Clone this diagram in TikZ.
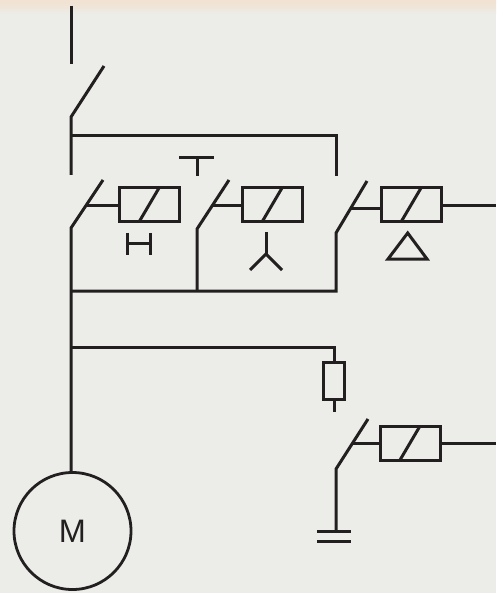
\documentclass[tikz,border=0pt]{standalone}
\usepackage{fontspec}
\newfontfamily\diagsans{Liberation Sans}
\definecolor{bgc}{RGB}{236,237,233}
\definecolor{peach}{RGB}{241,226,210}
\definecolor{ink}{RGB}{35,31,32}
\tikzset{
  wire/.style={draw=ink,line width=3pt,line cap=butt,line join=miter},
  coil/.style={draw=ink,line width=3pt,minimum width=60pt,minimum height=34pt,inner sep=0pt,outer sep=0pt},
  fuse/.style={draw=ink,line width=3pt,minimum width=21pt,minimum height=37pt,inner sep=0pt,outer sep=0pt},
  motor/.style={circle,draw=ink,line width=2.8pt,minimum size=117pt,inner sep=0pt,outer sep=0pt,text=ink,font=\diagsans\fontsize{32.5}{32.5}\selectfont},
}
\begin{document}
\begin{tikzpicture}[x=1pt,y=-1pt]
\useasboundingbox (0,0) rectangle (496,593);
\fill[bgc] (0,0) rectangle (496,593);
\shade[top color=peach,bottom color=bgc,middle color=peach!70!bgc] (0,0) rectangle (496,14);

% nodes
\node[coil] (c1) at (149,205) {};
\node[coil] (c2) at (272,205) {};
\node[coil] (c3) at (411,205) {};
\node[coil] (c4) at (410,443) {};
\node[fuse] (f1) at (334,380.5) {};
\node[motor] (m) at (72.5,531) {M};

% named points
\coordinate (t0) at (71,6);
\coordinate (t1) at (71,64);
\coordinate (s0a) at (71,117);
\coordinate (s0b) at (104,66);
\coordinate (s0c) at (71,175);
\coordinate (j0) at (71,136);
\coordinate (j0r) at (336,136);
\coordinate (j0d) at (336,176);

\coordinate (s1a) at (71,228);
\coordinate (s1b) at (103,180);
\coordinate (s1m) at (86,206);
\coordinate (s2a) at (197,229);
\coordinate (s2b) at (229,180);
\coordinate (s2m) at (212,206);
\coordinate (s3a) at (336,233);
\coordinate (s3b) at (367,181);
\coordinate (s3m) at (351,209);
\coordinate (s4a) at (336,469);
\coordinate (s4b) at (368,419);
\coordinate (s4m) at (353,443);

\coordinate (bl) at (71,291);
\coordinate (bm) at (197,291);
\coordinate (br) at (336,291);
\coordinate (j1) at (71,347);
\coordinate (j1r) at (334,347);
\coordinate (f1e) at (334,412);
\coordinate (o3) at (496,206);
\coordinate (o4a) at (442,443);
\coordinate (o4) at (496,443);
\coordinate (g0) at (336,531);

% supply and switches
\draw[wire] (t0) -- (t1);
\draw[wire] (s0b) -- (s0a) -- (s0c);
\draw[wire] (j0) -- (j0r) -- (j0d);
\draw[wire] (s1b) -- (s1a) -- (m.north -| s1a);
\draw[wire] (s2b) -- (s2a) -- (bm);
\draw[wire] (s3b) -- (s3a) -- (br) -- (bl);
\draw[wire] (s4b) -- (s4a) -- (g0);

% operating links
\draw[wire] (s1m) -- (c1.west |- s1m);
\draw[wire] (s2m) -- (c2.west |- s2m);
\draw[wire] (s3m) -- (c3.west |- s3m);
\draw[wire] (s4m) -- (c4.west |- s4m);

% coil slashes
\draw[wire] ([xshift=-10pt]c1.south) -- ([xshift=10pt]c1.north);
\draw[wire] ([xshift=-10pt]c2.south) -- ([xshift=10pt]c2.north);
\draw[wire] ([xshift=-10pt]c3.south) -- ([xshift=10pt]c3.north);
\draw[wire] ([xshift=-10pt]c4.south) -- ([xshift=10pt]c4.north);

% outputs
\draw[wire] (c3.east) ++(0,1) -- (o3);
\draw[wire] (o4a) -- (o4);

% fuse branch
\draw[wire] (j1) -- (j1r) -- (f1.north);
\draw[wire] (f1.south) -- (f1e);

% ground
\coordinate (g1l) at (317,531);
\coordinate (g1r) at (351,531);
\coordinate (g2l) at (317,541.5);
\coordinate (g2r) at (351,541.5);
\draw[wire] (g1l) -- (g1r);
\draw[wire] (g2l) -- (g2r);

% T symbol
\coordinate (Tl) at (179,157.5);
\coordinate (Tr) at (214,157.5);
\coordinate (Tm) at (197,157.5);
\coordinate (Tb) at (197,176);
\draw[wire] (Tl) -- (Tr);
\draw[wire] (Tm) -- (Tb);

% H symbol
\coordinate (Ha) at (127,233);
\coordinate (Hb) at (127,254.5);
\coordinate (Hc) at (150.5,233);
\coordinate (Hd) at (150.5,254.5);
\coordinate (He) at (127,243.5);
\coordinate (Hf) at (150.5,243.5);
\draw[wire] (Ha) -- (Hb);
\draw[wire] (Hc) -- (Hd);
\draw[wire] (He) -- (Hf);

% Y symbol
\coordinate (Ya) at (266,232);
\coordinate (Yb) at (266,254);
\coordinate (Yc) at (250,270);
\coordinate (Yd) at (282,270);
\draw[wire] (Ya) -- (Yb);
\draw[wire] (Yc) -- (Yb) -- (Yd);

% triangle symbol
\coordinate (Da) at (407.7,233);
\coordinate (Db) at (388,259);
\coordinate (Dc) at (427,259);
\draw[wire] (Da) -- (Db) -- (Dc) -- cycle;
\end{tikzpicture}
\end{document}
